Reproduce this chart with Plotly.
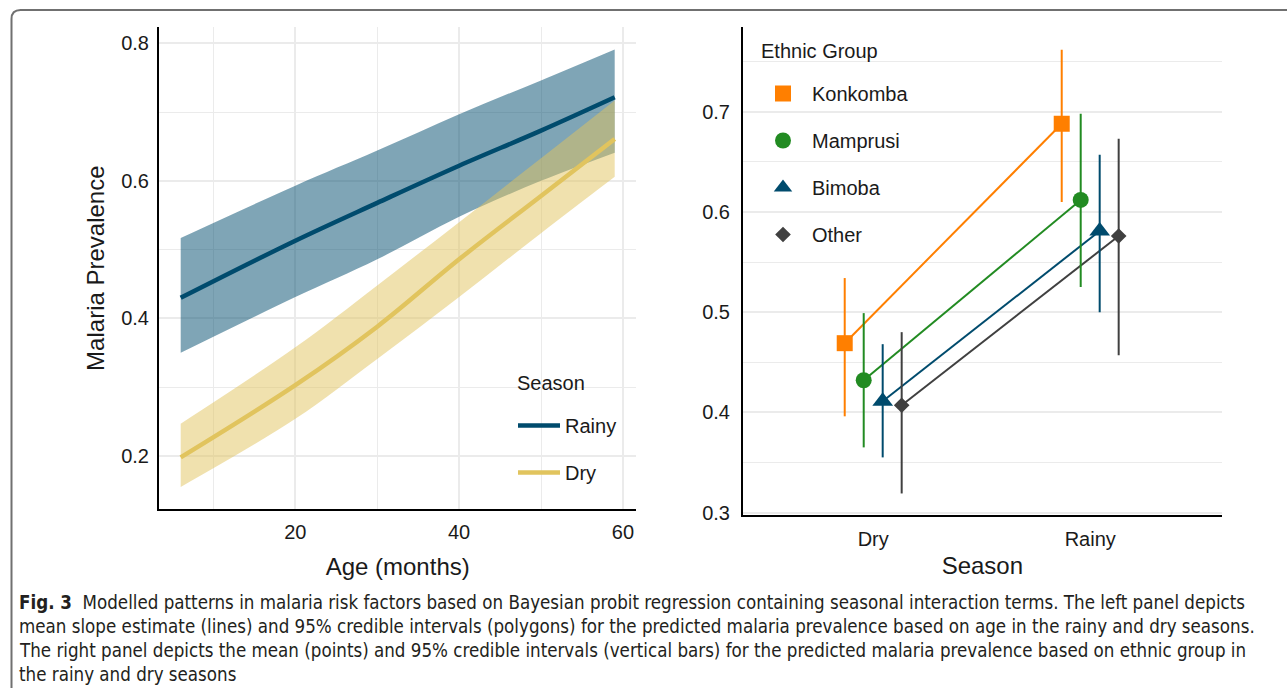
import plotly.graph_objects as go

# ---------------- Left panel data ----------------
ages = [6, 20, 30, 40, 50, 59]
rainy_mean = [0.430, 0.513, 0.568, 0.622, 0.673, 0.7215]
rainy_lower = [0.350, 0.431, 0.486, 0.548, 0.600, 0.641]
rainy_upper = [0.517, 0.593, 0.644, 0.697, 0.746, 0.791]
dry_mean = [0.198, 0.303, 0.388, 0.486, 0.578, 0.661]
dry_lower = [0.155, 0.254, 0.341, 0.431, 0.524, 0.606]
dry_upper = [0.247, 0.358, 0.448, 0.540, 0.633, 0.717]

# ---------------- Right panel data ----------------
seasons = ["Dry", "Rainy"]
groups = ["Konkomba", "Mamprusi", "Bimoba", "Other"]
dry_pt = [0.469, 0.432, 0.411, 0.407]
dry_lo = [0.396, 0.365, 0.355, 0.319]
dry_hi = [0.534, 0.499, 0.468, 0.480]
rainy_pt = [0.688, 0.612, 0.581, 0.576]
rainy_lo = [0.610, 0.525, 0.500, 0.457]
rainy_hi = [0.762, 0.698, 0.657, 0.673]

caption_lines = [
    "Modelled patterns in malaria risk factors based on Bayesian probit regression containing seasonal interaction terms. The left panel depicts",
    "mean slope estimate (lines) and 95% credible intervals (polygons) for the predicted malaria prevalence based on age in the rainy and dry seasons.",
    "The right panel depicts the mean (points) and 95% credible intervals (vertical bars) for the predicted malaria prevalence based on ethnic group in",
    "the rainy and dry seasons",
]

W, H = 1287, 688
BLUE = "#004B6D"
YELLOW = "#E1C45E"
grp_colors = ["#FF7F00", "#228B22", "#004B6D", "#404040"]
grp_symbols = ["square", "circle", "triangle-up", "diamond"]
grp_sizes = [16, 16, 18, 12]
FONT = "Liberation Sans, Arial, sans-serif"
TXT = "#1a1a1a"


def px_x(px):
    return px / W


def px_y(py):
    return (H - py) / H


fig = go.Figure()

# ribbons (rainy first, dry on top)
sm = 1.0
fig.add_trace(go.Scatter(x=ages, y=rainy_lower, mode="lines",
                         line=dict(width=0, shape="spline", smoothing=sm),
                         hoverinfo="skip", showlegend=False, xaxis="x", yaxis="y"))
fig.add_trace(go.Scatter(x=ages, y=rainy_upper, mode="lines", fill="tonexty",
                         fillcolor="rgba(0,75,109,0.5)",
                         line=dict(width=0, shape="spline", smoothing=sm),
                         hoverinfo="skip", showlegend=False, xaxis="x", yaxis="y"))
fig.add_trace(go.Scatter(x=ages, y=dry_lower, mode="lines",
                         line=dict(width=0, shape="spline", smoothing=sm),
                         hoverinfo="skip", showlegend=False, xaxis="x", yaxis="y"))
fig.add_trace(go.Scatter(x=ages, y=dry_upper, mode="lines", fill="tonexty",
                         fillcolor="rgba(225,196,94,0.5)",
                         line=dict(width=0, shape="spline", smoothing=sm),
                         hoverinfo="skip", showlegend=False, xaxis="x", yaxis="y"))
fig.add_trace(go.Scatter(
    x=ages, y=rainy_mean, mode="lines", name="Rainy",
    line=dict(color=BLUE, width=4.5, shape="spline", smoothing=sm),
    xaxis="x", yaxis="y", legend="legend", legendgroup="Rainy"))
fig.add_trace(go.Scatter(
    x=ages, y=dry_mean, mode="lines", name="Dry",
    line=dict(color=YELLOW, width=4.5, shape="spline", smoothing=sm),
    xaxis="x", yaxis="y", legend="legend", legendgroup="Dry"))

# right panel: dodged points
dodge_w = 0.35
n = len(groups)
for i, g in enumerate(groups):
    off = (i - (n - 1) / 2) * dodge_w / n
    fig.add_trace(go.Scatter(
        x=[1 + off, 2 + off], y=[dry_pt[i], rainy_pt[i]], mode="lines",
        line=dict(color=grp_colors[i], width=2),
        showlegend=False, hoverinfo="skip", xaxis="x2", yaxis="y2"))
for i, g in enumerate(groups):
    off = (i - (n - 1) / 2) * dodge_w / n
    fig.add_trace(go.Scatter(
        x=[1 + off, 2 + off], y=[dry_pt[i], rainy_pt[i]], mode="markers", name=g,
        marker=dict(symbol=grp_symbols[i], size=grp_sizes[i], color=grp_colors[i], line=dict(width=0)),
        error_y=dict(type="data", symmetric=False,
                     array=[dry_hi[i] - dry_pt[i], rainy_hi[i] - rainy_pt[i]],
                     arrayminus=[dry_pt[i] - dry_lo[i], rainy_pt[i] - rainy_lo[i]],
                     color=grp_colors[i], thickness=2, width=0),
        xaxis="x2", yaxis="y2", legend="legend2", legendgroup=g))

grid = "#EBEBEB"
axis_common = dict(showline=True, linecolor="black", linewidth=2, ticks="", automargin=False,
                   tickfont=dict(family=FONT, size=20, color=TXT), zeroline=False,
                   gridcolor=grid, gridwidth=1.6)

fig.update_layout(
    width=W, height=H, margin=dict(l=0, r=0, t=0, b=0, autoexpand=False),
    paper_bgcolor="white", plot_bgcolor="white",
    font=dict(family=FONT, color=TXT),
    xaxis=dict(domain=[px_x(159), px_x(636.4)], range=[3.35, 61.65], anchor="y",
               tickmode="linear", tick0=0, dtick=20, showgrid=True, ticklabelstandoff=4,
               minor=dict(dtick=10, tick0=0, showgrid=True, gridcolor=grid, gridwidth=1.2),
               title=dict(text="Age (months)", font=dict(family=FONT, size=24, color=TXT), standoff=16),
               **axis_common),
    yaxis=dict(domain=[px_y(509.3), px_y(27)], range=[0.1225, 0.8237], anchor="x",
               tickmode="array", tickvals=[0.2, 0.4, 0.6, 0.8], ticktext=["0.2", "0.4", "0.6", "0.8"],
               showgrid=True, ticklabelstandoff=4,
               minor=dict(tickmode="array", tickvals=[0.3, 0.5, 0.7], showgrid=True, gridcolor=grid, gridwidth=1.2),
               title=dict(text="Malaria Prevalence", font=dict(family=FONT, size=24, color=TXT), standoff=10),
               **axis_common),
    xaxis2=dict(domain=[px_x(743), px_x(1221.7)], range=[0.4, 2.606], anchor="y2",
                tickmode="array", tickvals=[1, 2], ticktext=seasons, showgrid=False, ticklabelstandoff=5,
                title=dict(text="Season", font=dict(family=FONT, size=24, color=TXT), standoff=8),
                **axis_common),
    yaxis2=dict(domain=[px_y(515), px_y(27)], range=[0.2975, 0.7846], anchor="x2",
                tickmode="array", tickvals=[0.3, 0.4, 0.5, 0.6, 0.7],
                ticktext=["0.3", "0.4", "0.5", "0.6", "0.7"], showgrid=True, ticklabelstandoff=7,
                minor=dict(tickmode="array", tickvals=[0.35, 0.45, 0.55, 0.65, 0.75], showgrid=True,
                           gridcolor=grid, gridwidth=1.2),
                **axis_common),
    legend=dict(x=px_x(513), y=px_y(406), xanchor="left", yanchor="top", itemwidth=42,
                bgcolor="rgba(0,0,0,0)", font=dict(family=FONT, size=20, color=TXT),
                tracegroupgap=18),
    legend2=dict(x=px_x(754), y=px_y(74), xanchor="left", yanchor="top", itemwidth=48,
                 bgcolor="rgba(0,0,0,0)", font=dict(family=FONT, size=20, color=TXT),
                 tracegroupgap=18),
)

# legend titles
fig.add_annotation(x=px_x(515), y=px_y(383), xref="paper", yref="paper", xanchor="left",
                   yanchor="middle", showarrow=False, text="Season",
                   font=dict(family=FONT, size=20, color=TXT))
fig.add_annotation(x=px_x(759), y=px_y(51), xref="paper", yref="paper", xanchor="left",
                   yanchor="middle", showarrow=False, text="Ethnic Group",
                   font=dict(family=FONT, size=20, color=TXT))

# figure frame (rounded border of the published figure box)
rx, ry = 9 / W, 9 / H
L, T, B = px_x(11.5), px_y(10), px_y(700)
fig.add_shape(type="path", xref="paper", yref="paper",
              path=(f"M 1.01,{T} L {L + rx},{T} Q {L},{T} {L},{T - ry} "
                    f"L {L},{B + ry} Q {L},{B} {L + rx},{B} L 1.01,{B}"),
              line=dict(color="#707070", width=2))

# caption
CAP_FONT = "DejaVu Sans Condensed, Liberation Sans Narrow, sans-serif"
cap_y = [602, 626, 650, 674]
for k, line in enumerate(caption_lines):
    txt = ("<b>Fig. 3</b>  " + line) if k == 0 else line
    fig.add_annotation(x=px_x(17), y=px_y(cap_y[k]), xref="paper", yref="paper",
                       xanchor="left", yanchor="middle", showarrow=False, text=txt,
                       font=dict(family=CAP_FONT, size=18.6, color="#231f20"))

fig.write_html("out.html")
